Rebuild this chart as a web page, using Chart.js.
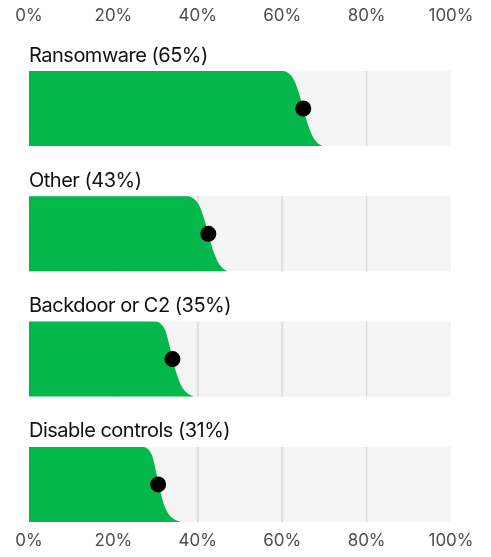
<!DOCTYPE html>
<html>
<head>
<meta charset="utf-8">
<script src="https://cdn.jsdelivr.net/npm/chart.js@4.4.1/dist/chart.umd.min.js"></script>
<style>
  html, body { margin: 0; padding: 0; background: #fff; }
  #wrap { width: 491px; height: 557px; }
</style>
</head>
<body>
<div id="wrap"><canvas id="chart"></canvas></div>
<script>
// data
const categories = ['Ransomware', 'Other', 'Backdoor or C2', 'Disable controls'];
const shares = [65, 43, 35, 31];
const dotPositions = [65, 42.5, 34, 30.6];
const tickValues = [0, 20, 40, 60, 80, 100];
const gridValues = [20, 40, 60, 80];

// green shape edge: share of band height at each x (same for all rows)
const curveHeights = [1, 1, 0.97, 0.88, 0.7, 0.5, 0.3, 0.13, 0.04, 0];
const curveX = [
  [0, 60, 61.5, 62.8, 64, 65, 66, 67.2, 68.4, 69.5],
  [0, 37.5, 39, 40.3, 41.5, 42.5, 43.5, 44.7, 45.9, 47],
  [0, 30, 31.2, 32.3, 33.2, 34.1, 35, 36.2, 37.6, 39],
  [0, 27, 28.2, 29.2, 30, 30.8, 31.6, 32.8, 34.3, 36]
];

// layout (y units = pixels below the plot top)
const FIRST_TOP = 41;
const PITCH = 125.3;
const BAND_H = 75;
const LABEL_GAP = 9.5;

const GREEN = '#03b74b';
const BAND = '#f4f4f4';
const GRID = '#dadada';
const FONT = 'Inter, "Noto Sans", sans-serif';

const bandTop = i => FIRST_TOP + PITCH * i;
const bandBottom = i => bandTop(i) + BAND_H;

const datasets = [];

// Chart.js paints higher "order" first, so band < grid < green < dot
categories.forEach((cat, i) => {
  const top = bandTop(i);
  const bottom = bandBottom(i);

  // grey band
  datasets.push({
    type: 'line',
    order: 4,
    data: [{ x: 0, y: top }, { x: 100, y: top }],
    fill: { value: bottom },
    backgroundColor: BAND,
    borderWidth: 0,
    pointRadius: 0
  });

  // grid lines inside the band
  gridValues.forEach(g => {
    datasets.push({
      type: 'line',
      order: 3,
      data: [{ x: g, y: top }, { x: g, y: bottom }],
      borderColor: GRID,
      borderWidth: 1,
      pointRadius: 0,
      fill: false
    });
  });

  // green area
  datasets.push({
    type: 'line',
    order: 2,
    data: curveX[i].map((x, k) => ({ x: x, y: bottom - curveHeights[k] * BAND_H })),
    fill: { value: bottom },
    backgroundColor: GREEN,
    borderWidth: 0,
    pointRadius: 0,
    cubicInterpolationMode: 'monotone'
  });

  // median dot
  datasets.push({
    type: 'scatter',
    order: 1,
    data: [{ x: dotPositions[i], y: top + BAND_H / 2 }],
    backgroundColor: '#000',
    borderWidth: 0,
    pointRadius: 8,
    pointHoverRadius: 8
  });
});

const rowLabels = {
  id: 'rowLabels',
  afterDatasetsDraw(chart) {
    const { ctx, scales } = chart;
    ctx.save();
    ctx.fillStyle = '#111';
    ctx.font = '20px ' + FONT;
    ctx.letterSpacing = '-0.5px';
    ctx.textAlign = 'left';
    ctx.textBaseline = 'alphabetic';
    categories.forEach((cat, i) => {
      const x = scales.x.getPixelForValue(0);
      const y = scales.y.getPixelForValue(bandTop(i) - LABEL_GAP);
      ctx.fillText(cat + ' (' + shares[i] + '%)', x, y);
    });
    ctx.restore();
  }
};

const axisOpts = (pos, h, pad) => ({
  type: 'linear',
  position: pos,
  min: 0,
  max: 100,
  afterBuildTicks: scale => { scale.ticks = tickValues.map(v => ({ value: v })); },
  afterFit: scale => { scale.height = h; },
  ticks: {
    color: '#4d4d4d',
    font: { family: FONT, size: 17 },
    padding: pad,
    maxRotation: 0,
    callback: v => v + '%'
  },
  grid: { display: false, drawTicks: false },
  border: { display: false }
});

new Chart(document.getElementById('chart'), {
  data: { datasets },
  options: {
    responsive: true,
    maintainAspectRatio: false,
    animation: false,
    layout: { padding: { left: 29, right: 40, top: 0, bottom: 0 } },
    plugins: { legend: { display: false }, tooltip: { enabled: false } },
    scales: {
      x: axisOpts('top', 30, 4),
      x2: axisOpts('bottom', 27, 1),
      y: { type: 'linear', display: false, reverse: true, min: 0, max: 500 }
    }
  },
  plugins: [rowLabels]
});
</script>
</body>
</html>
